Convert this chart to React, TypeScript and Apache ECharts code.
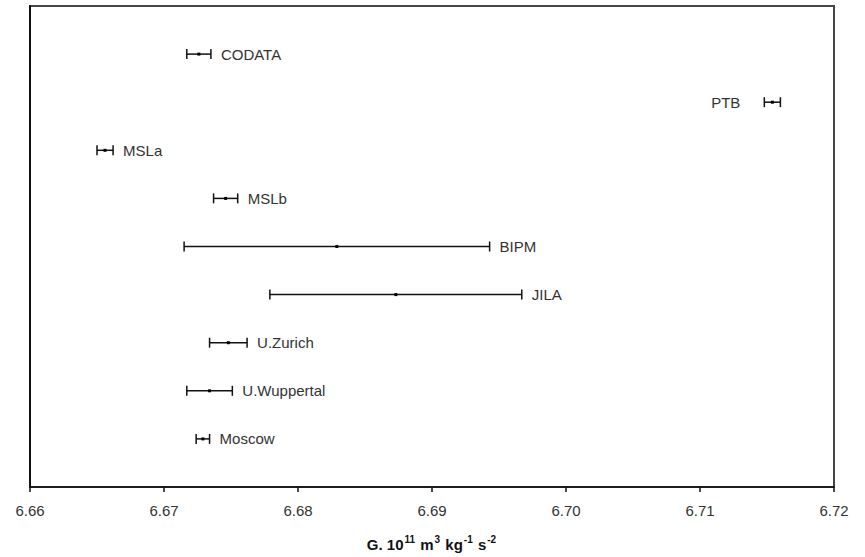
import React, { useEffect, useRef } from "react";
import * as echarts from "echarts";

const labels = ["CODATA", "PTB", "MSLa", "MSLb", "BIPM", "JILA", "U.Zurich", "U.Wuppertal", "Moscow"];
const centers = [6.6726, 6.7154, 6.6656, 6.6746, 6.6829, 6.6873, 6.6748, 6.6734, 6.6729];
const errors = [0.0009, 0.0006, 0.0006, 0.0009, 0.0114, 0.0094, 0.0014, 0.0017, 0.0005];
const rows = [1, 2, 3, 4, 5, 6, 7, 8, 9];
const leftLabelled = ["PTB"];
const xTicks = [6.66, 6.67, 6.68, 6.69, 6.7, 6.71, 6.72];

export default function App() {
  const ref = useRef<HTMLDivElement>(null);
  useEffect(() => {
    if (!ref.current) return;
    const chart = echarts.init(ref.current, null, { renderer: "svg" });
    const data = labels.map((name, i) => ({
      name,
      value: [centers[i] - errors[i], centers[i] + errors[i], centers[i], rows[i]],
    }));
    const ff = '"Liberation Sans", Arial, sans-serif';
    const font = '15px "Liberation Sans", Arial, sans-serif';
    chart.setOption({
      animation: false,
      backgroundColor: "#ffffff",
      grid: {
        left: 30,
        right: 31,
        top: 6,
        bottom: 69,
        show: true,
        borderColor: "#444",
        borderWidth: 2,
        backgroundColor: "transparent",
      },
      xAxis: {
        type: "value",
        min: xTicks[0],
        max: xTicks[xTicks.length - 1],
        interval: 0.01,
        splitLine: { show: false },
        axisLine: { show: true, onZero: false, lineStyle: { color: "#111", width: 1.5 } },
        axisTick: { show: true, inside: false, length: 5, lineStyle: { color: "#111", width: 1.5 } },
        axisLabel: {
          margin: 16,
          color: "#333",
          fontSize: 15,
          fontFamily: ff,
          formatter: (v: number) => v.toFixed(2),
        },
        name: "{b|G. 10}{sup|11}{b| m}{sup|3}{b| kg}{sup|-1}{b| s}{sup|-2}",
        nameLocation: "middle",
        nameGap: 47,
        nameTextStyle: {
          rich: {
            b: { fontSize: 15, fontWeight: "bold", color: "#111", fontFamily: ff, verticalAlign: "bottom", lineHeight: 18 },
            sup: { fontSize: 10, fontWeight: "bold", color: "#111", fontFamily: ff, verticalAlign: "top", lineHeight: 18, padding: [0, 1, 7, 1] },
          },
        },
      },
      yAxis: {
        type: "value",
        min: 0,
        max: 10,
        inverse: true,
        splitLine: { show: false },
        axisLine: { show: true, onZero: false, lineStyle: { color: "#111", width: 2 } },
        axisTick: { show: false },
        axisLabel: { show: false },
      },
      series: [
        {
          type: "custom",
          data,
          encode: { x: [0, 1, 2], y: 3 },
          renderItem: (params: any, api: any) => {
            const lo = api.value(0);
            const hi = api.value(1);
            const c = api.value(2);
            const y = api.value(3);
            const pLo = api.coord([lo, y]);
            const pHi = api.coord([hi, y]);
            const pC = api.coord([c, y]);
            const name = labels[params.dataIndex];
            const left = leftLabelled.indexOf(name) >= 0;
            const cap = 5;
            const ls = { stroke: "#111", lineWidth: 1.5 };
            return {
              type: "group",
              children: [
                { type: "line", shape: { x1: pLo[0], y1: pLo[1], x2: pHi[0], y2: pHi[1] }, style: ls },
                { type: "line", shape: { x1: pLo[0], y1: pLo[1] - cap, x2: pLo[0], y2: pLo[1] + cap }, style: ls },
                { type: "line", shape: { x1: pHi[0], y1: pHi[1] - cap, x2: pHi[0], y2: pHi[1] + cap }, style: ls },
                { type: "rect", shape: { x: pC[0] - 1.5, y: pC[1] - 1.5, width: 3, height: 3 }, style: { fill: "#000" } },
                {
                  type: "text",
                  x: left ? pLo[0] - 24 : pHi[0] + 10,
                  y: pC[1],
                  style: {
                    text: name,
                    fill: "#333",
                    font,
                    align: left ? "right" : "left",
                    verticalAlign: "middle",
                  },
                },
              ],
            };
          },
        },
      ],
    });
    return () => chart.dispose();
  }, []);
  return <div ref={ref} style={{ position: "fixed", left: 0, top: 0, width: 865, height: 557 }} />;
}
